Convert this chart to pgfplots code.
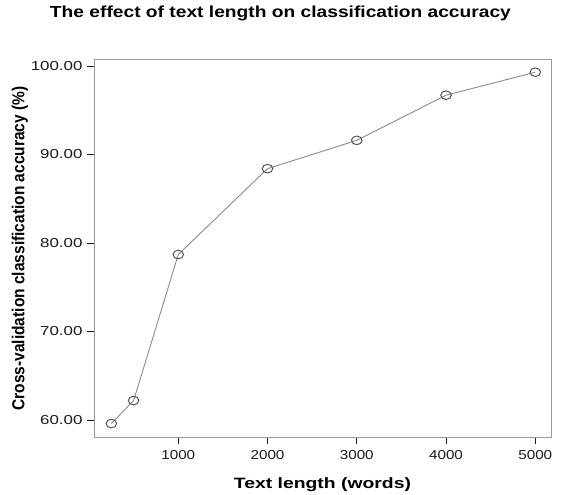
\documentclass[border=0pt]{standalone}
\usepackage{fontspec}
\setmainfont{Liberation Sans}
\usepackage{pgfplots}
\pgfplotsset{compat=1.18}
\definecolor{axisgray}{HTML}{9A9A9A}
\definecolor{linegray}{HTML}{8A8A8A}
\definecolor{markgray}{HTML}{555555}
\definecolor{textgray}{HTML}{1A1A1A}

\begin{document}
\begin{tikzpicture}
\path[use as bounding box] (0,0) rectangle (586pt,495pt);
\begin{axis}[
    at={(94pt,58pt)}, anchor=south west,
    width=457pt, height=377pt, scale only axis,
    xmin=56, xmax=5176,
    ymin=58.08, ymax=100.68,
    xtick={1000,2000,3000,4000,5000},
    ytick={60,70,80,90,100},
    tick align=outside, tick pos=left,
    major tick length=7pt,
    axis line style={axisgray, line width=1pt},
    tick style={textgray, line width=1pt},
    /pgf/number format/assume math mode=true,
    xticklabel={\scalebox{1.17}[1]{\pgfmathprintnumber[1000 sep={}]{\tick}}},
    xticklabel style={font=\fontsize{13}{13}\selectfont, text=textgray, yshift=-3pt},
    yticklabel={\scalebox{1.3}[1]{\pgfmathprintnumber[fixed, fixed zerofill, precision=2]{\tick}}},
    yticklabel style={font=\fontsize{13}{13}\selectfont, text=textgray, xshift=-1pt},
    title={\scalebox{1.2}[1]{The effect of text length on classification accuracy}},
    title style={at={(axis description cs:0.408,1.109)}, anchor=center, font=\fontsize{16}{16}\selectfont\bfseries},
    xlabel={\scalebox{1.29}[1]{Text length (words)}},
    xlabel style={at={(axis description cs:0.5,-0.127)}, anchor=center, font=\fontsize{15}{15}\selectfont\bfseries},
    ylabel={\scalebox{1}[1.12]{Cross-validation classification accuracy (\%)}},
    ylabel style={at={(axis description cs:-0.162,0.5)}, anchor=center, rotate=0, font=\fontsize{15.5}{15.5}\selectfont\bfseries},
]
\addplot[color=linegray, line width=0.9pt, mark=o, mark size=4.8pt,
    mark options={markgray, line width=1pt, xscale=1.1, yscale=0.9}]
coordinates {(250,59.6)(500,62.2)(1000,78.7)(2000,88.4)(3000,91.6)(4000,96.7)(5000,99.3)};
\end{axis}
\end{tikzpicture}
\end{document}
